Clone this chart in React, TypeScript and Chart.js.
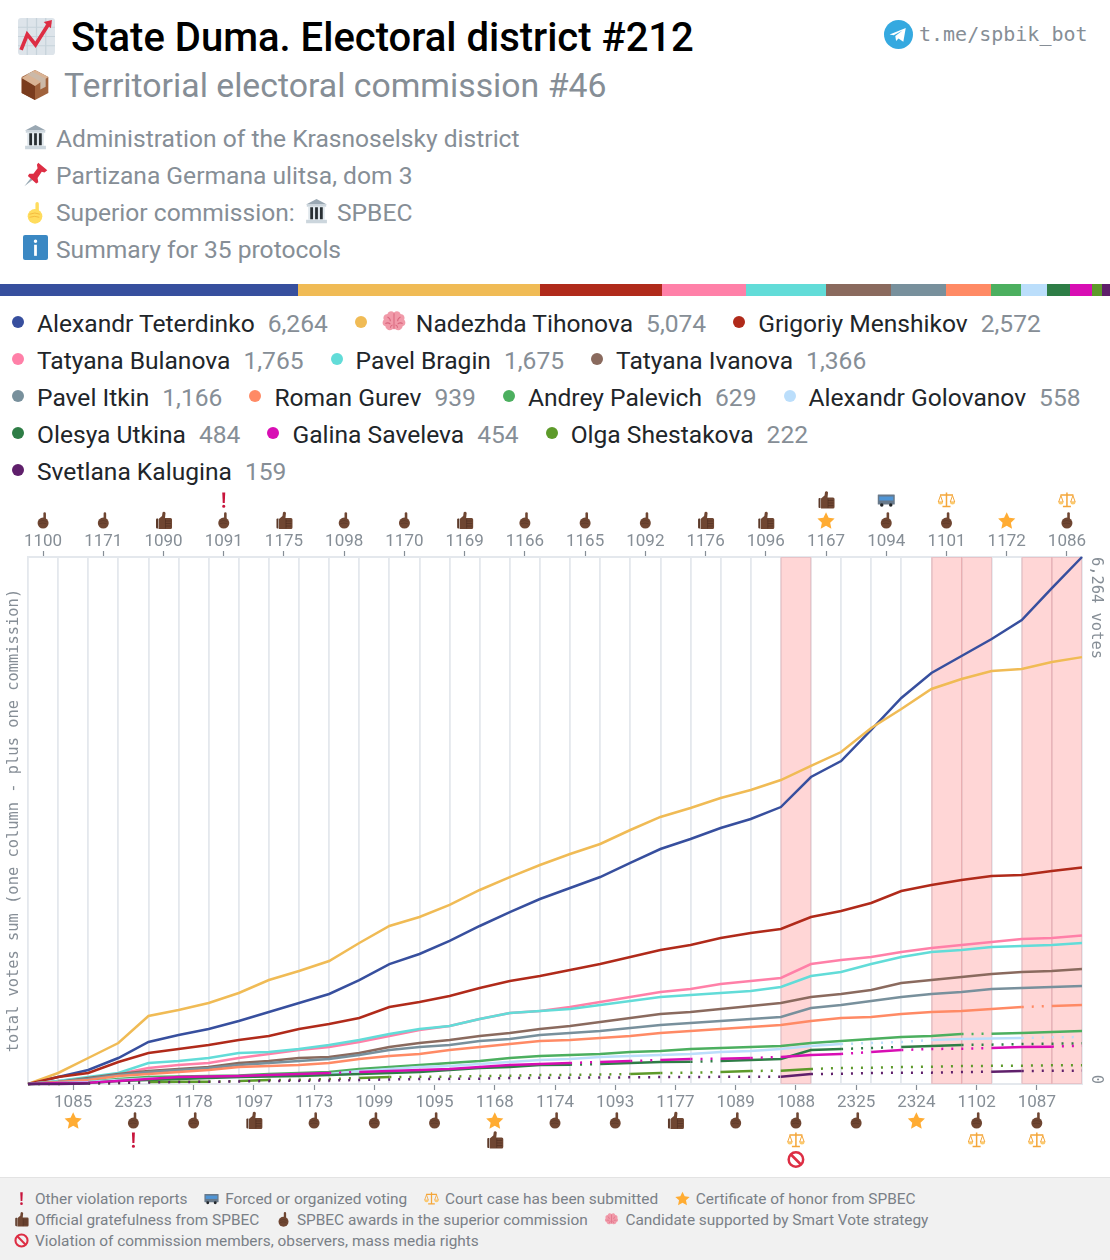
import React, { useEffect, useRef } from "react";
import { Chart, registerables } from "chart.js";

Chart.register(...registerables);

const categories = ["1100","1085","1171","2323","1090","1178","1091","1097","1175","1173","1098","1099","1170","1095","1169","1168","1166","1174","1165","1093","1092","1177","1176","1089","1096","1088","1167","2325","1094","2324","1101","1102","1172","1087","1086"];

const marks: string[][] = [["hand"],["star"],["hand"],["hand","excl"],["thumb"],["hand"],["hand","excl"],["thumb"],["thumb"],["hand"],["hand"],["hand"],["hand"],["hand"],["thumb"],["star","thumb"],["hand"],["hand"],["hand"],["hand"],["hand"],["thumb"],["thumb"],["hand"],["thumb"],["hand","scales","no"],["star","thumb"],["hand"],["hand","bus"],["star"],["hand","scales"],["hand","scales"],["star"],["hand","scales"],["hand","scales"]];

const names = ["Alexandr Teterdinko","Nadezhda Tihonova","Grigoriy Menshikov","Tatyana Bulanova","Pavel Bragin","Tatyana Ivanova","Pavel Itkin","Roman Gurev","Andrey Palevich","Alexandr Golovanov","Olesya Utkina","Galina Saveleva","Olga Shestakova","Svetlana Kalugina"];
const totals = [6264,5074,2572,1765,1675,1366,1166,939,629,558,484,454,222,159];
const colors = ["#374f9e","#f0bb55","#b02a1a","#ff80a8","#62dcd8","#8a6a5e","#78909c","#ff8a65","#4caf5f","#bbdefb","#2e7d46","#d80eb4","#5d9a2a","#5f1f6b"];

const teterdinko = [0,83,166,309,499,582,654,749,856,963,1070,1236,1426,1545,1700,1878,2044,2199,2330,2460,2627,2793,2912,3043,3150,3292,3649,3839,4208,4588,4885,5087,5289,5515,5895,6264];
const tihonova = [0,131,309,487,808,880,963,1082,1236,1343,1462,1676,1878,1985,2128,2306,2460,2603,2734,2853,3019,3174,3281,3399,3494,3613,3780,3946,4231,4457,4695,4814,4909,4933,5016,5074];
const menshikov = [0,83,131,261,368,416,464,523,571,654,713,784,915,975,1046,1141,1224,1284,1355,1426,1510,1593,1652,1735,1795,1842,1985,2056,2151,2294,2365,2425,2472,2484,2532,2572];
const bulanova = [0,36,71,119,190,226,250,309,357,404,440,499,571,642,689,773,844,868,915,975,1034,1093,1129,1189,1224,1260,1426,1474,1510,1569,1617,1652,1688,1723,1735,1765];
const bragin = [0,36,83,131,250,273,309,368,380,416,464,523,594,654,689,773,844,868,891,939,987,1034,1058,1082,1105,1153,1284,1331,1426,1510,1569,1593,1628,1640,1652,1675];
const ivanova = [0,24,71,119,155,178,202,250,273,309,321,368,440,487,523,571,606,654,689,737,784,832,856,891,927,963,1034,1070,1117,1200,1236,1272,1307,1331,1343,1366];
const itkin = [0,24,59,107,143,166,190,226,250,273,297,345,404,440,464,511,535,582,606,630,666,701,725,749,773,796,903,939,987,1034,1070,1093,1129,1141,1153,1166];
const gurev = [0,24,48,95,119,143,166,202,214,226,250,297,333,357,404,440,475,511,523,547,571,606,630,654,677,701,749,784,796,832,856,868,891,915,927,939];
const palevich = [0,12,24,59,83,90,95,100,119,131,143,178,202,226,250,273,309,333,345,357,380,392,416,428,440,452,487,511,535,559,571,594,598,606,618,629];
const golovanov = [0,12,24,48,65,71,78,83,95,107,119,155,178,202,214,238,261,285,297,321,333,345,357,380,392,416,452,475,487,499,523,535,540,547,555,558];
const utkina = [0,6,12,36,48,59,71,83,88,95,107,119,131,143,166,190,202,226,230,238,250,261,265,273,285,297,404,416,428,440,452,464,468,475,478,484];
const saveleva = [0,12,14,36,59,83,88,95,107,119,131,143,155,166,178,202,226,238,250,261,273,285,297,300,309,321,345,357,380,404,416,420,428,440,444,454];
const shestakova = [0,0,6,12,24,26,28,36,48,50,59,71,83,85,88,95,98,107,109,112,119,131,134,143,155,158,178,190,193,202,205,214,216,218,222,222];
const kalugina = [0,0,6,12,18,24,26,30,36,38,42,48,54,59,61,63,71,73,75,77,79,83,84,85,86,87,119,121,131,133,135,143,145,155,157,159];
const seriesValues = [teterdinko,tihonova,menshikov,bulanova,bragin,ivanova,itkin,gurev,palevich,golovanov,utkina,saveleva,shestakova,kalugina];

const dottedSegments: number[][] = [[],[],[],[],[],[],[],[33],[31],[27,28,29,33,34],[18,22,27,28,31,32,33,34],[10,18,20,22,24,27,29,30,31,34],
  [0,1,2,3,6,8,9,10,12,13,14,15,16,17,18,19,21,22,24,26,27,28,29,30,31,32,33,34],
  [2,3,4,5,6,7,8,9,10,11,12,13,14,15,16,17,18,19,20,21,22,23,24,26,27,28,29,30,31,33,34]];

const footerRows: [string, string][][] = [
  [["excl","Other violation reports"],["bus","Forced or organized voting"],["scales","Court case has been submitted"],["star","Certificate of honor from SPBEC"]],
  [["thumb","Official gratefulness from SPBEC"],["hand","SPBEC awards in the superior commission"],["brain","Candidate supported by Smart Vote strategy"]],
  [["no","Violation of commission members, observers, mass media rights"]],
];

type Part = { d: string; fill?: string; stroke?: string; sw?: number };
const dot = (cx: number, cy: number, r: number) => `M${cx - r} ${cy}a${r} ${r} 0 1 0 ${2 * r} 0a${r} ${r} 0 1 0 ${-2 * r} 0z`;
const handParts = (c: string, d: string): Part[] => [
  { d: "M21.500 0a2.800 2.800 0 0 1 2.800 2.800V16h-5.600V2.800A2.800 2.800 0 0 1 21.500 0z", fill: c },
  { d: dot(18, 23.500, 12), fill: c },
  { d: "M9 20q9-4 17 0M9 25q9-3 16 0", stroke: d, sw: 1.400 },
];
const icons: Record<string, Part[]> = {
  hand: handParts("#6f4632", "#593525"),
  yhand: handParts("#ffdc5d", "#f2b53a"),
  thumb: [
    { d: "M3 16a2 2 0 0 1 2-2h2v20H5a2 2 0 0 1-2-2z", fill: "#5c3a2a" },
    { d: "M8 15l7-6 1-7a3.200 3.200 0 0 1 6 1l-1 10h11a3 3 0 0 1 3 3v16a3 3 0 0 1-3 3H8z", fill: "#6f4632" },
    { d: "M22 19h11M22 24h11M22 29h11M22 15v19", stroke: "#4d2e20", sw: 1.200 },
  ],
  star: [{ d: "M18 1.500l5.200 11.200 12 1.400-8.900 8.300 2.400 12L18 28.400 7.300 34.400l2.400-12L.8 14.100l12-1.400z", fill: "#ffac33" }],
  excl: [{ d: "M15 3h6l-1 21h-4z", fill: "#c8143c" }, { d: dot(18, 30.500, 3.200), fill: "#c8143c" }],
  scales: [
    { d: "M18 3v28M10 31h16M5 8h26", stroke: "#f4a63a", sw: 3 },
    { d: "M6 9L1.500 22h9zM30 9l-4.500 13h9z", stroke: "#f4a63a", sw: 2 },
    { d: "M1 22h10a5 5 0 0 1-10 0zM25 22h10a5 5 0 0 1-10 0z", fill: "#fbc96c" },
  ],
  no: [{ d: dot(18, 18, 14.500), stroke: "#dd2e44", sw: 5 }, { d: "M8 8l20 20", stroke: "#dd2e44", sw: 5 }],
  bus: [
    { d: "M2 7h32a1 1 0 0 1 1 1v18a1 1 0 0 1-1 1H2a1 1 0 0 1-1-1V8a1 1 0 0 1 1-1z", fill: "#68798a" },
    { d: "M4 11h28v8H4z", fill: "#4f95d6" },
    { d: dot(9, 28, 3.500), fill: "#22262a" },
    { d: dot(27, 28, 3.500), fill: "#22262a" },
  ],
  brain: [
    { d: "M18 5c-3-3-8-2-9 2-4 0-7 4-5 8-3 3-2 8 2 9 1 5 6 7 10 4l2-1 2 1c4 3 9 1 10-4 4-1 5-6 2-9 2-4-1-8-5-8-1-4-6-5-9-2z", fill: "#f19aa9" },
    { d: "M18 6v22M9 11q4 2 4 6M27 11q-4 2-4 6M6 20q4-2 7 1M30 20q-4-2-7 1M13 26q0-3 3-4M23 26q0-3-3-4", stroke: "#d9667e", sw: 1.400 },
  ],
  chart: [
    { d: "M3 0h30a3 3 0 0 1 3 3v30a3 3 0 0 1-3 3H3a3 3 0 0 1-3-3V3a3 3 0 0 1 3-3z", fill: "#dde4ea" },
    { d: "M9 0v36M18 0v36M27 0v36M0 9h36M0 18h36M0 27h36", stroke: "#c6d2da", sw: 1.200 },
    { d: "M3 31L9 16l8 10L31 4", stroke: "#dd2e44", sw: 3.600 },
    { d: "M25 4l8-2-1 8z", fill: "#dd2e44" },
  ],
  box: [
    { d: "M18 1L33 9v18L18 35 3 27V9z", fill: "#a0623c" },
    { d: "M18 19v16L3 27V10z", fill: "#7a3c1e" },
    { d: "M3 10L18 1l15 8-15 10z", fill: "#d9b394" },
    { d: "M9 6l15 8v9l6-3v-9L15 3z", fill: "#cbb9a8" },
  ],
  bank: [
    { d: "M18 0L33 8H3z", fill: "#9aa8b3" },
    { d: "M4 8h28v3H4zM3 30h30v5H3z", fill: "#ccd6dd" },
    { d: "M6 11h24v19H6z", fill: "#e1e8ed" },
    { d: "M9 12h4v17H9zM16 12h4v17h-4zM23 12h4v17h-4z", fill: "#292f33" },
  ],
  pin: [
    { d: "M2 35l11-14 3 3z", fill: "#99aab5" },
    { d: "M22 1l13 11-4 3-4-1-6 9 1 6-3 2L7 20l2-3 6 0 6-8-1-5z", fill: "#dd2e44" },
  ],
  info: [
    { d: "M3 0h30a3 3 0 0 1 3 3v30a3 3 0 0 1-3 3H3a3 3 0 0 1-3-3V3a3 3 0 0 1 3-3z", fill: "#3b88c3" },
    { d: "M16 14h4v16h-4z", fill: "#fff" },
    { d: dot(18, 9, 2.500), fill: "#fff" },
  ],
  telegram: [
    { d: dot(18, 18, 18), fill: "#35a9e0" },
    { d: "M7 18l20-8-3 17-6-4-3 3-1-6 9-7-11 6z", fill: "#fff" },
  ],
};

const iconSizes: Record<string, number> = { hand: 16.500, excl: 18, thumb: 18, star: 18, scales: 18, bus: 18, no: 18 };

const Icon = ({ name, size, x, y }: { name: string; size: number; x: number; y: number }) => (
  <svg viewBox="0 0 36 36" width={size} height={size} style={{ position: "absolute", left: x - size / 2, top: y - size / 2, overflow: "visible" }}>
    {icons[name].map((p, i) => (
      <path key={i} d={p.d} fill={p.fill ?? "none"} stroke={p.stroke} strokeWidth={p.sw} />
    ))}
  </svg>
);

const drawIcon = (ctx: CanvasRenderingContext2D, name: string, cx: number, cy: number, size: number) => {
  ctx.save();
  ctx.translate(cx - size / 2, cy - size / 2);
  ctx.scale(size / 36, size / 36);
  for (const p of icons[name]) {
    const path = new Path2D(p.d);
    if (p.fill) { ctx.fillStyle = p.fill; ctx.fill(path); }
    if (p.stroke) { ctx.strokeStyle = p.stroke; ctx.lineWidth = p.sw ?? 1; ctx.stroke(path); }
  }
  ctx.restore();
};

const markPlugin = {
  id: "marks",
  afterDraw(chart: any) {
    const { ctx, chartArea, scales } = chart;
    marks.forEach((list, i) => {
      const x = scales.x.getPixelForValue(i + 0.5);
      list.forEach((name, k) => {
        const y = i % 2 === 0 ? chartArea.top - 36.500 - k * 20.500 : chartArea.bottom + 36.500 + k * 19.500;
        drawIcon(ctx, name, x, y, iconSizes[name]);
      });
    });
  },
};

const GRAY = "#868e96";
const GRID = "#e4e8ed";
const topPositions = categories.map((_, i) => i + 0.5).filter((_, i) => i % 2 === 0);
const bottomPositions = categories.map((_, i) => i + 0.5).filter((_, i) => i % 2 === 1);
const gridPositions = Array.from({ length: categories.length + 1 }, (_, i) => i);
const shaded = categories.map((_, i) => i).filter((i) => marks[i].includes("scales"));

const tickAxis = (position: string, positions: number[], size: number, pad: number) => ({
  type: "linear",
  position,
  min: 0,
  max: categories.length,
  offset: false,
  border: { display: true, color: GRID, width: 2 },
  grid: { offset: false, drawOnChartArea: false, drawTicks: true, tickLength: 6, tickColor: "#868e96", tickWidth: 1.200 },
  ticks: {
    autoSkip: false,
    maxRotation: 0,
    padding: pad,
    color: GRAY,
    font: { family: "Roboto", size: 17 },
    callback: (v: number) => categories[Math.floor(v)],
  },
  afterBuildTicks: (s: any) => { s.ticks = positions.map((value) => ({ value })); },
  afterFit: (s: any) => { s.height = size; },
});

const sideAxis = (position: string, weight: number, width: number, text: string, align: string) => ({
  type: "linear",
  position,
  weight,
  min: 0,
  max: totals[0],
  border: { display: false },
  grid: { display: false },
  ticks: { display: false },
  title: { display: true, text, align, color: GRAY, padding: { top: 5, bottom: 0 }, font: { family: "'DejaVu Sans Mono'", size: 15.400 } },
  afterFit: (s: any) => { s.width = width; },
});

function VoteChart() {
  const ref = useRef<HTMLCanvasElement>(null);
  useEffect(() => {
    const chart = new Chart(ref.current!, {
      type: "line",
      plugins: [markPlugin],
      data: {
        datasets: [
          ...seriesValues.map((vals, s) => ({
            type: "line",
            label: names[s],
            data: vals.map((y, i) => ({ x: i, y })),
            borderColor: colors[s],
            borderWidth: 2.500,
            pointRadius: 0,
            tension: 0,
            clip: false,
            order: seriesValues.length - s,
            xAxisID: "x",
            yAxisID: "y",
            segment: { borderDash: (c: any) => (dottedSegments[s].includes(c.p0DataIndex) ? [2, 8] : undefined) },
          })),
          {
            type: "bar",
            label: "Court case",
            data: shaded.map((i) => ({ x: i + 0.5, y: totals[0] })),
            backgroundColor: "rgba(255,0,0,0.16)",
            barPercentage: 1,
            categoryPercentage: 1,
            grouped: false,
            order: 100,
            xAxisID: "x",
            yAxisID: "y",
          },
        ],
      },
      options: {
        animation: false,
        responsive: false,
        maintainAspectRatio: false,
        layout: { padding: 0 },
        plugins: { legend: { display: false }, tooltip: { enabled: false } },
        scales: {
          x: tickAxis("bottom", bottomPositions, 93, 3),
          xTop: tickAxis("top", topPositions, 77, -1),
          xGrid: {
            type: "linear",
            position: "bottom",
            weight: 5,
            min: 0,
            max: categories.length,
            offset: false,
            border: { display: false },
            grid: { offset: false, color: GRID, lineWidth: 1.800, drawTicks: false, tickLength: 0 },
            ticks: { display: false },
            afterBuildTicks: (s: any) => { s.ticks = gridPositions.map((value) => ({ value })); },
            afterFit: (s: any) => { s.height = 0; },
          },
          y: {
            ...sideAxis("left", 0, 28, "total votes sum (one column - plus one commission)", "center"),
          },
          yTop: sideAxis("right", 0, 28, "6,264 votes", "end"),
          yZero: sideAxis("right", 1, 0, "0", "start"),
        },
      },
    } as any);
    return () => chart.destroy();
  }, []);
  return <canvas ref={ref} width={1110} height={697} style={{ position: "absolute", left: 0, top: 480, display: "block" }} />;
}

const line = (x: number, y: number, size: number, color: string, weight = 400, extra: any = {}): any => ({
  position: "absolute", left: x, top: y - size, height: size * 2, lineHeight: `${size * 2}px`, fontSize: size, color, fontWeight: weight, whiteSpace: "nowrap", ...extra,
});

export default function App() {
  return (
    <div style={{ position: "absolute", left: 0, top: 0, width: 1110, height: 1260, background: "#fff", fontFamily: "Roboto", overflow: "hidden" }}>
      <Icon name="chart" size={37} x={36} y={36} />
      <div style={line(71, 38, 40, "#000", 500)}>State Duma. Electoral district #212</div>
      <Icon name="telegram" size={29} x={898} y={34} />
      <div style={line(919, 34, 20, GRAY, 400, { fontFamily: "'DejaVu Sans Mono'" })}>t.me/spbik_bot</div>
      <Icon name="box" size={32} x={35} y={85} />
      <div style={line(64, 86, 33.800, GRAY)}>Territorial electoral commission #46</div>
      <Icon name="bank" size={25} x={35} y={137} />
      <div style={line(56, 139, 24.600, GRAY)}>Administration of the Krasnoselsky district</div>
      <Icon name="pin" size={25} x={35} y={174} />
      <div style={line(56, 176, 24.600, GRAY)}>Partizana Germana ulitsa, dom 3</div>
      <Icon name="yhand" size={22} x={35} y={213} />
      <div style={line(56, 213, 24.600, GRAY)}>Superior commission:</div>
      <Icon name="bank" size={25} x={316} y={211} />
      <div style={line(337, 213, 24.600, GRAY)}>SPBEC</div>
      <Icon name="info" size={25} x={35} y={247} />
      <div style={line(56, 250, 24.600, GRAY)}>Summary for 35 protocols</div>

      <div style={{ position: "absolute", left: 0, top: 284, width: 1110, height: 12, display: "flex" }}>
        {totals.map((t, i) => <div key={i} style={{ flex: `${t} ${t} 0`, background: colors[i] }} />)}
      </div>

      <div style={{ position: "absolute", left: 12, top: 305, width: 1080, display: "flex", flexWrap: "wrap", columnGap: 27, rowGap: 0 }}>
        {names.map((n, i) => (
          <div key={n} style={{ display: "flex", alignItems: "center", height: 37, fontSize: 24.600, whiteSpace: "nowrap" }}>
            <span style={{ width: 12, height: 12, borderRadius: 6, background: colors[i], marginRight: 13, marginTop: -4 }} />
            {i === 1 && <span style={{ position: "relative", width: 26, height: 26, marginLeft: 1, marginRight: 9, marginTop: -4 }}><Icon name="brain" size={26} x={13} y={13} /></span>}
            <span style={{ color: "#212529" }}>{n}</span>
            <span style={{ color: GRAY, marginLeft: 13 }}>{totals[i].toLocaleString("en-US")}</span>
          </div>
        ))}
      </div>

      <VoteChart />

      <div style={{ position: "absolute", left: 0, top: 1177, width: 1110, height: 83, background: "#f1f1f1", borderTop: "1px solid #e3e3e3", boxSizing: "border-box" }}>
        <div style={{ position: "absolute", left: 14, top: 10 }}>
          {footerRows.map((row, r) => (
            <div key={r} style={{ display: "flex", height: 21, alignItems: "center", columnGap: 16.700, whiteSpace: "nowrap", fontSize: 15.400, color: "#7a8087" }}>
              {row.map(([ic, t]) => (
                <div key={t} style={{ display: "flex", alignItems: "center" }}>
                  <span style={{ position: "relative", width: 15, height: 16, marginRight: 6, display: "inline-block" }}><Icon name={ic} size={15} x={7.5} y={8} /></span>
                  {t}
                </div>
              ))}
            </div>
          ))}
        </div>
      </div>
    </div>
  );
}
